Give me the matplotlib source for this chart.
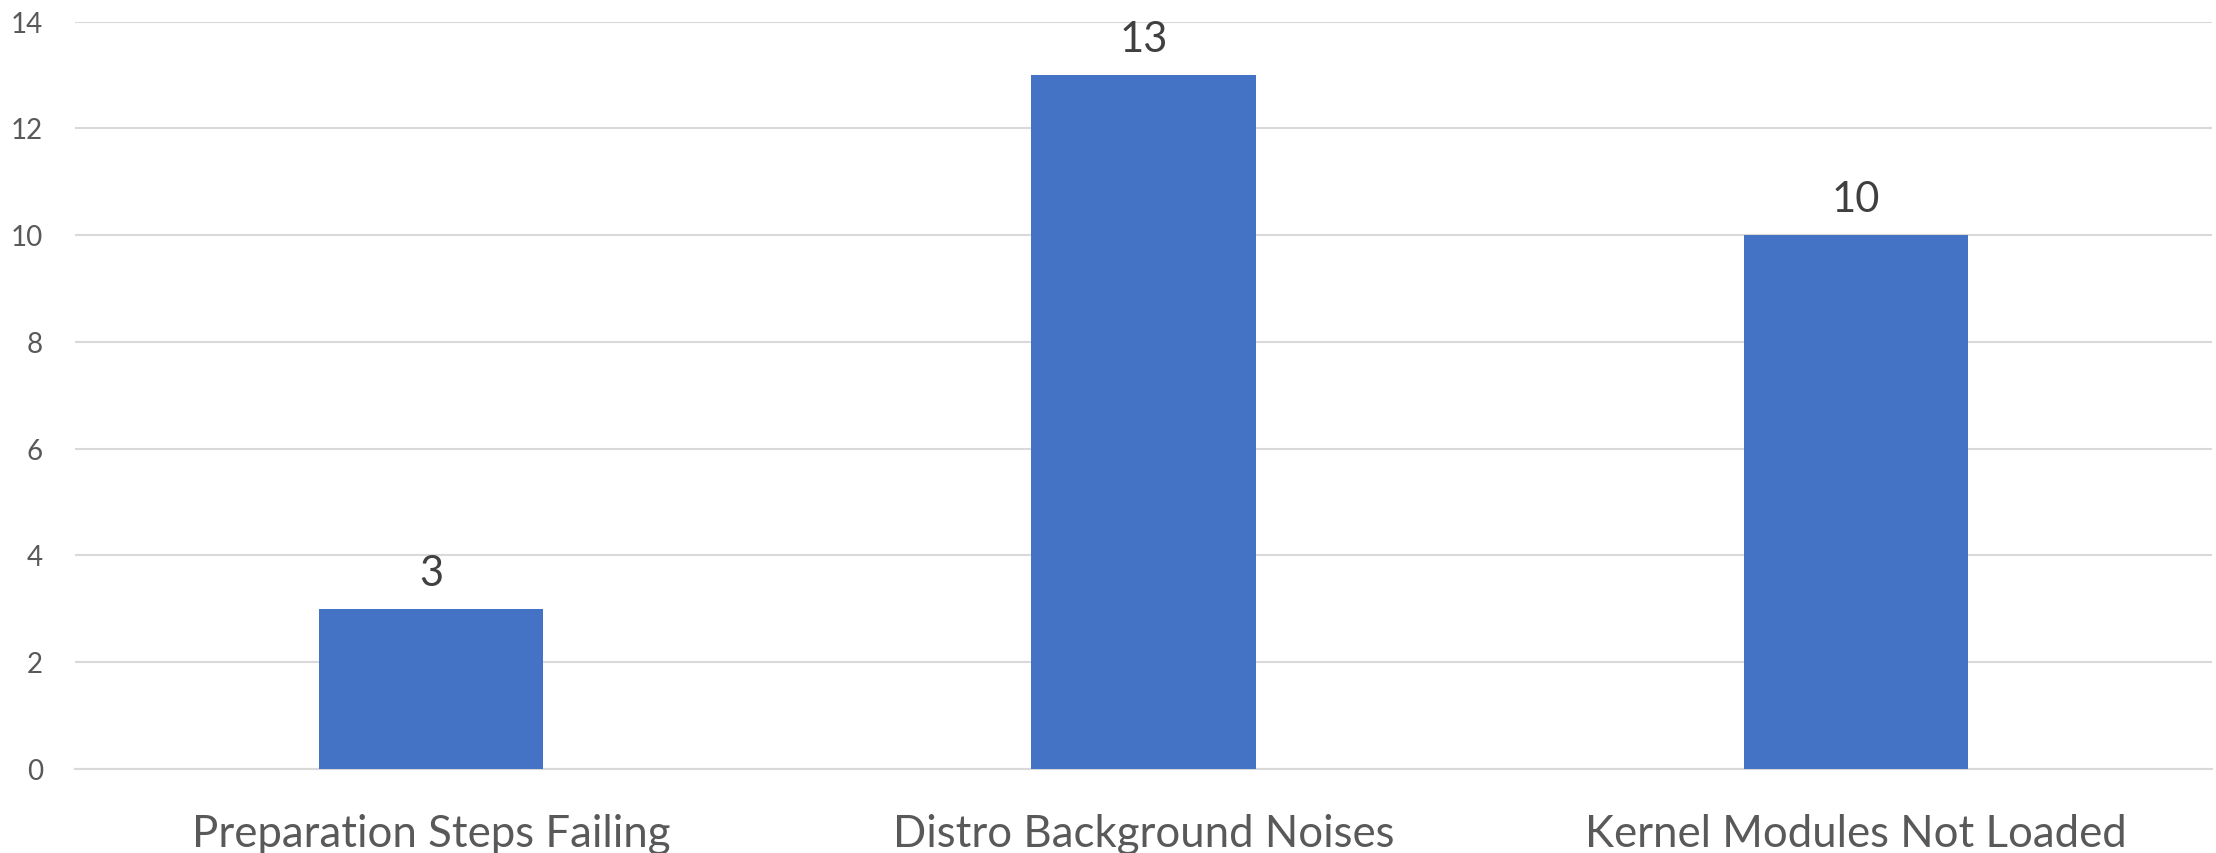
import matplotlib.pyplot as plt

categories = ['Preparation Steps Failing', 'Distro Background Noises', 'Kernel Modules Not Loaded']
counts = [3, 13, 10]
y_ticks = [0, 2, 4, 6, 8, 10, 12, 14]

plt.rcParams['font.family'] = ['Lato', 'DejaVu Sans']

fig = plt.figure(figsize=(22.16, 8.535), dpi=100)
ax = fig.add_axes([75 / 2216, 84 / 853, 2137 / 2216, 747 / 853])

bars = ax.bar(range(len(categories)), counts, width=0.315, color='#4472C4', zorder=3)
ax.bar_label(bars, labels=[str(c) for c in counts], padding=12,
             fontsize=30, color='#404040')

ax.set_xlim(-0.5, len(categories) - 0.5)
ax.set_ylim(0, 14)
ax.set_yticks(y_ticks)
ax.set_xticks(range(len(categories)))
ax.set_xticklabels(categories)

ax.grid(axis='y', color='#D9D9D9', linewidth=1.5, zorder=0)
ax.tick_params(axis='y', length=0, pad=23, labelsize=20, labelcolor='#595959')
ax.tick_params(axis='x', length=0, pad=32, labelsize=31.5, labelcolor='#595959')
for side in ['top', 'right', 'left']:
    ax.spines[side].set_visible(False)
ax.spines['bottom'].set_color('#D9D9D9')
ax.spines['bottom'].set_linewidth(1.5)

fig.savefig('out.png', dpi=100)
